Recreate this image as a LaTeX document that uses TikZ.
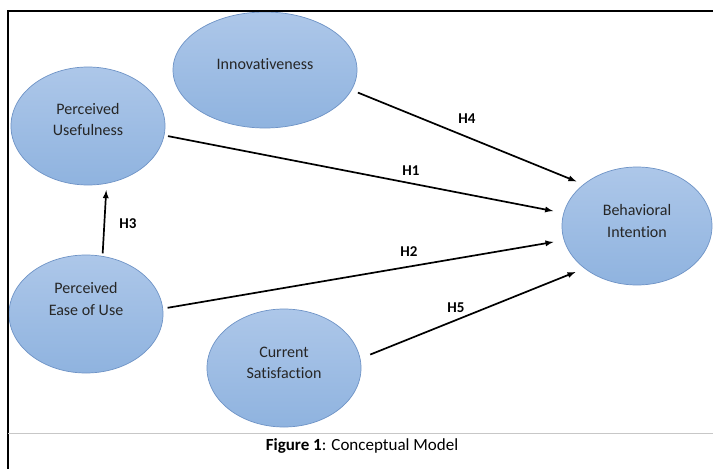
\documentclass[tikz,border=0pt]{standalone}
\usepackage{fontspec}
\setmainfont[Ligatures=NoCommon]{Carlito}
\usetikzlibrary{shapes}
\definecolor{elltop}{HTML}{ADC7E9}
\definecolor{ellbot}{HTML}{8FB3DF}
\definecolor{ellline}{HTML}{6E93C6}
\definecolor{txt}{HTML}{262626}
\tikzstyle{var}=[ellipse,draw=ellline,line width=.7pt,top color=elltop,bottom color=ellbot,minimum width=154pt,minimum height=118pt,inner sep=0pt,outer sep=0pt]
\tikzstyle{vtxt}=[align=center,text=txt,font=\fontsize{16}{21}\selectfont]
\tikzstyle{hyp}=[->,>=latex,line width=1.7pt]
\tikzstyle{hl}=[font=\fontsize{15}{18}\selectfont\bfseries]

\begin{document}
\begin{tikzpicture}[x=1pt,y=-1pt]
\useasboundingbox (0,0) rectangle (713,469);
\fill[white] (0,0) rectangle (713,469);
% constructs
\node[var,minimum width=184pt,minimum height=116pt,label={[vtxt,yshift=6pt]center:Innovativeness}] (inn) at (265,70) {};
\node[var,label={[vtxt,yshift=6pt]center:Perceived\\Usefulness}] (pu) at (88,126) {};
\node[var,label={[vtxt,yshift=15pt]center:Perceived\\Ease of Use}] (pe) at (86,314) {};
\node[var,label={[vtxt,yshift=5pt]center:Current\\Satisfaction}] (cs) at (284,368) {};
\node[var,minimum width=150pt,label={[vtxt,yshift=5pt]center:Behavioral\\Intention}] (bi) at (637,226) {};
% frame
\draw[line width=2pt] (8,469) -- (8,10.5) -- (713,10.5);
\draw[black!22,line width=1pt] (8,433) -- (713,433);
% hypotheses
\draw[hyp,shorten <=7pt,shorten >=8pt] (inn.-13) -- (bi.142.5);
\draw[hyp,shorten <=4pt,shorten >=11pt] (pu.-7.8) -- (bi.170.5);
\draw[hyp,shorten <=5pt,shorten >=11pt] (pe.4.9) -- (bi.191.4);
\draw[hyp,shorten <=11pt,shorten >=10pt] (cs.7.9) -- (bi.219);
\draw[hyp,shorten <=3pt,shorten >=7pt] (pe.74.4) -- (pu.-72.6);
\node[hl] (h4) at (467,119) {H4};
\node[hl] (h1) at (411,171) {H1};
\node[hl] (h2) at (409,252) {H2};
\node[hl] (h5) at (456,308) {H5};
\node[hl] (h3) at (128,224) {H3};
% caption
\node[text=black,font=\fontsize{17}{20}\selectfont] (cap) at (362,446) {\textbf{Figure 1}: Conceptual Model};
\end{tikzpicture}
\end{document}
